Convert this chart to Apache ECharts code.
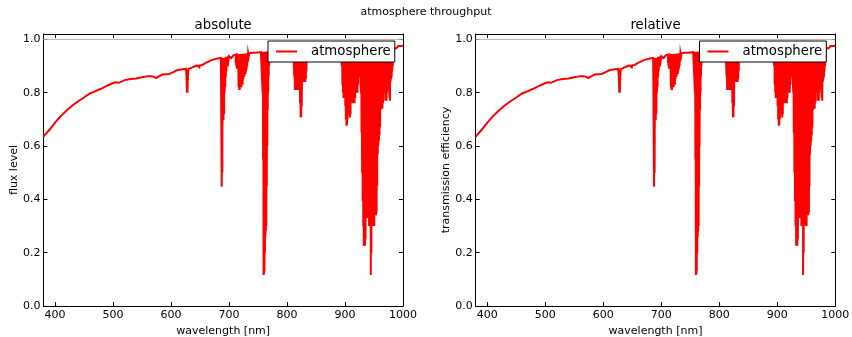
<!DOCTYPE html>
<html><head><meta charset="utf-8">
<script src="https://cdn.jsdelivr.net/npm/echarts@6/dist/echarts.min.js"></script>
<style>html,body{margin:0;padding:0;background:#fff}#c{width:852px;height:337px}</style>
</head><body><div id="c"></div>
<script>
// ---- tick labels ----
const xTicks = [400, 500, 600, 700, 800, 900, 1000];
const yTicks = [0, 0.2, 0.4, 0.6, 0.8, 1.0];

// ---- spectrum [wavelength nm, throughput] ----
const blueContinuum = [
  [380,.635],[390,.66],[400,.688],[410,.712],[420,.733],[430,.752],[440,.768],[450,.782],[460,.797],[470,.806],
  [475,.811],[478,.812],[481,.816],[490,.826],[500,.836],[505,.839],[508,.840],[510,.837],[512,.843],[520,.847],
  [530,.851],[540,.853],[550,.858],[560,.862],[566,.862],[570,.86],[574,.855],[577,.856],[580,.862],[585,.868],
  [588,.874],[589,.869],[590,.874],[591,.868],[592,.874],[593,.869],[594,.874],[595,.870],[596,.875],[597,.870],
  [598,.875],[600,.876],[605,.878],[610,.884],[620,.888],[626,.889],[627,.85],[627.5,.80],[628,.885],[628.5,.80],
  [629,.85],[630,.888],[633,.892],[640,.898],[645,.902],[647,.897],[648,.903],[649,.895],[650,.903],[651,.896],
  [652,.903],[654,.904],[660,.912],[670,.922],[680,.928],[686,.930]
];
const oxygenB = [
  [686.5,.93],[687,.60],[687.5,.447],[688,.93],[688.5,.50],[689,.93],[689.5,.70],[690,.93],[690.5,.697],[691,.93],
  [691.5,.72],[692,.93],[692.5,.80],[693,.93],[693.5,.82],[694,.935],[694.5,.86],[695,.935],[695.5,.88],[696,.935],
  [697,.90],[698,.936],[699,.92],[700,.937],[703,.938],[704,.93],[708,.941],[709,.935],[713,.944]
];
const band720 = [
  [711,.944],[711.5,.91],[712,.944],[712.5,.90],[713,.945],[713.5,.89],[714,.945],[714.5,.895],[715,.945],[715.5,.89],
  [716,.945],[716.5,.82],[717,.945],[717.5,.81],[718,.945],[718.5,.81],[719,.945],[719.5,.82],[720,.945],[720.5,.83],
  [721,.945],[721.5,.82],[722,.946],[722.5,.84],[723,.946],[723.5,.83],[724,.946],[724.5,.85],[725,.946],[725.5,.86],
  [726,.946],[726.5,.86],[727,.947],[727.5,.87],[728,.947],[728.5,.87],[729,.947],[729.5,.88],[730,.947],[730.5,.89],
  [731,.948],[731.5,.90],[732,.948],[732.5,.92],[733,.948],[734,.935],[735,.948],[740,.95],[745,.95],[750,.951],
  [755,.952],[757.5,.953]
];
const oxygenA = [
  [758,.80],[758.4,.953],[758.8,.55],[759.2,.953],[759.6,.116],[760,.953],[760.4,.12],[760.8,.953],[761.2,.13],[761.6,.953],
  [762,.20],[762.4,.953],[762.8,.26],[763.2,.954],[763.6,.28],[764,.954],[764.4,.30],[764.8,.954],[765.2,.45],[765.6,.954],
  [766,.60],[766.4,.954],[766.8,.735],[767.2,.955],[767.6,.80],[768,.955],[768.4,.86],[768.8,.955],[769.2,.90],[769.6,.955],
  [770,.93],[770.5,.955],[780,.956],[790,.957],[800,.958],[811,.958]
];
const band820 = [
  [812,.958],[812.5,.86],[813,.958],[813.5,.81],[814,.958],[814.5,.81],[815,.958],[815.5,.82],[816,.958],[816.5,.81],
  [817,.958],[817.5,.81],[818,.958],[818.5,.82],[819,.958],[819.5,.81],[820,.958],[820.5,.83],[821,.958],[821.5,.85],
  [822,.958],[822.5,.76],[823,.958],[823.5,.707],[824,.958],[824.5,.71],[825,.958],[825.5,.75],[826,.958],[826.5,.86],
  [827,.958],[827.5,.84],[828,.958],[828.5,.845],[829,.958],[829.5,.84],[830,.958],[830.5,.845],[831,.958],[831.5,.84],
  [832,.958],[832.5,.85],[833,.958],[833.5,.88],[834,.958],[834.5,.92],[835,.958],[850,.96],[870,.962],[893,.963]
];
const band910 = [
  [894,.963],[894.5,.90],[895,.963],[895.5,.83],[896,.963],[896.5,.80],[897,.963],[897.5,.78],[898,.963],[898.5,.80],
  [899,.963],[899.5,.78],[900,.963],[900.5,.75],[901,.963],[901.5,.70],[902,.963],[902.5,.676],[903,.963],[903.5,.68],
  [904,.963],[904.5,.70],[905,.963],[905.5,.76],[906,.963],[906.5,.77],[907,.963],[907.5,.72],[908,.963],[908.5,.707],
  [909,.963],[909.5,.72],[910,.963],[910.5,.77],[911,.963],[911.5,.76],[912,.963],[912.5,.77],[913,.963],[913.5,.765],
  [914,.963],[914.5,.76],[915,.963],[915.5,.77],[916,.963],[916.5,.76],[917,.963],[917.5,.78],[918,.963],[918.5,.80],
  [919,.963],[919.5,.80],[920,.963],[920.5,.81],[921,.963],[921.5,.80],[922,.963],[922.5,.83],[923,.963],[923.5,.86],
  [924,.963],[924.5,.90],[925,.963],[926.5,.963]
];
const band940 = [
  [927,.963],[927.5,.80],[928,.963],[928.5,.65],[929,.963],[929.5,.50],[930,.963],[930.5,.394],[931,.963],[931.5,.30],
  [932,.963],[932.5,.226],[933,.963],[933.5,.23],[934,.963],[934.5,.226],[935,.963],[935.5,.25],[936,.963],[936.5,.33],
  [937,.963],[937.5,.33],[938,.963],[938.5,.335],[939,.963],[939.5,.33],[940,.963],[940.5,.34],[941,.963],[941.5,.30],
  [942,.963],[942.5,.335],[943,.963],[943.5,.30],[944,.963],[944.5,.116],[945,.963],[945.5,.20],[946,.963],[946.5,.30],
  [947,.963],[947.5,.305],[948,.963],[948.5,.30],[949,.963],[949.5,.31],[950,.963],[950.5,.30],[951,.963],[951.5,.34],
  [952,.963],[952.5,.34],[953,.963],[953.5,.34],[954,.963],[954.5,.35],[955,.963],[955.5,.45],[956,.963],[956.5,.57],
  [957,.963],[957.5,.60],[958,.963],[958.5,.62],[959,.963],[959.5,.64],[960,.963],[960.5,.67],[961,.963],[961.5,.735],
  [962,.963],[962.5,.74],[963,.963],[963.5,.74],[964,.963],[964.5,.74],[965,.963],[965.5,.76],[966,.963],[966.5,.80],
  [967,.963],[967.5,.82],[968,.963],[968.5,.80],[969,.963],[969.5,.77],[970,.963],[970.5,.77],[971,.963],[971.5,.77],
  [972,.963],[972.5,.80],[973,.963],[973.5,.81],[974,.963],[974.5,.84],[975,.963],[975.5,.85],[976,.963],[976.5,.78],
  [977,.963],[977.5,.77],[978,.963],[978.5,.84],[979,.963],[979.5,.85],[980,.963],[980.5,.86],[981,.963],[981.5,.88],
  [982,.963],[982.5,.90],[983,.965],[983.5,.93],[984,.968]
];
const redTail = [[985,.97],[987,.972],[988,.966],[989,.972],[992,.975],[996,.975],[1000,.976]];
const referenceLevel = [[380, 1], [1000, 1]];

const spectrum = [].concat(blueContinuum, oxygenB, band720, oxygenA, band820, band910, band940, redTail);

// ---- layout ----
const FONT = 'DejaVu Sans';
const grids = [
  {left: 43.4, top: 34, width: 359.6, height: 272, yName: 'flux level', title: 'absolute', legendLeft: 268},
  {left: 475.7, top: 34, width: 359.6, height: 272, yName: 'transmission efficiency', title: 'relative', legendLeft: 699.5}
];

const lineBlack = {show: true, onZero: false, lineStyle: {color: '#000', width: 1}};
const tickStyle = (vals) => ({show: true, inside: true, length: 4, customValues: vals, lineStyle: {color: '#000', width: 1}});

const xAxis = [], yAxis = [], series = [], legend = [];
const title = [{text: 'atmosphere throughput', left: 'center', top: 7, padding: 0,
  textStyle: {fontFamily: FONT, fontSize: 11, fontWeight: 'normal', color: '#000'}}];

grids.forEach((g, i) => {
  xAxis.push({type: 'value', gridIndex: i, position: 'bottom', min: 380, max: 1000,
    axisLine: lineBlack, axisTick: tickStyle(xTicks), splitLine: {show: false},
    axisLabel: {customValues: xTicks, margin: 4, fontFamily: FONT, fontSize: 11, color: '#000',
      formatter: v => String(Math.round(v))},
    name: 'wavelength [nm]', nameLocation: 'middle', nameGap: 20, nameMoveOverlap: false,
    nameTextStyle: {fontFamily: FONT, fontSize: 11, color: '#000'}});
  xAxis.push({type: 'value', gridIndex: i, position: 'top', min: 380, max: 1000,
    axisLine: lineBlack, axisTick: tickStyle(xTicks), splitLine: {show: false},
    axisLabel: {show: false, customValues: xTicks}});
  yAxis.push({type: 'value', gridIndex: i, position: 'left', min: 0, max: 1.02,
    axisLine: lineBlack, axisTick: tickStyle(yTicks), splitLine: {show: false},
    axisLabel: {customValues: yTicks, margin: 3, fontFamily: FONT, fontSize: 11, color: '#000',
      formatter: v => Number(v).toFixed(1)},
    name: g.yName, nameLocation: 'middle', nameGap: 24, nameMoveOverlap: false,
    nameTextStyle: {fontFamily: FONT, fontSize: 11, color: '#000'}});
  yAxis.push({type: 'value', gridIndex: i, position: 'right', min: 0, max: 1.02,
    axisLine: lineBlack, axisTick: tickStyle(yTicks), splitLine: {show: false},
    axisLabel: {show: false, customValues: yTicks}});
  series.push({type: 'line', name: 'reference', xAxisIndex: 2 * i, yAxisIndex: 2 * i,
    data: referenceLevel, symbol: 'none', silent: true, z: 2,
    lineStyle: {color: '#b0b0b0', width: 1}, animation: false});
  series.push({type: 'line', name: 'atmosphere', xAxisIndex: 2 * i, yAxisIndex: 2 * i,
    data: spectrum, symbol: 'none', showSymbol: false, z: 3, animation: false,
    lineStyle: {color: '#ff0000', width: 2, join: 'miter'}, itemStyle: {color: '#ff0000'}});
  legend.push({data: [{name: 'atmosphere', icon: 'rect'}], left: g.legendLeft, top: 41,
    orient: 'horizontal', padding: [4, 4, 4, 8], itemWidth: 21, itemHeight: 2,
    borderColor: '#000', borderWidth: 1, borderRadius: 0, backgroundColor: '#fff', z: 10,
    selectedMode: false, itemStyle: {color: '#ff0000'},
    textStyle: {fontFamily: FONT, fontSize: 13.3, color: '#000', padding: [0, 0, 0, 9]}});
  title.push({text: g.title, left: g.left + g.width / 2, textAlign: 'center', top: 19, padding: 0,
    textStyle: {fontFamily: FONT, fontSize: 13.3, fontWeight: 'normal', color: '#000'}});
});

const chart = echarts.init(document.getElementById('c'), null, {renderer: 'canvas'});
chart.setOption({
  animation: false,
  backgroundColor: '#fff',
  title: title,
  legend: legend,
  grid: grids.map(g => ({left: g.left, top: g.top, width: g.width, height: g.height,
    containLabel: false, outerBoundsMode: 'none', show: false})),
  xAxis: xAxis,
  yAxis: yAxis,
  series: series
});
</script>
</body></html>
